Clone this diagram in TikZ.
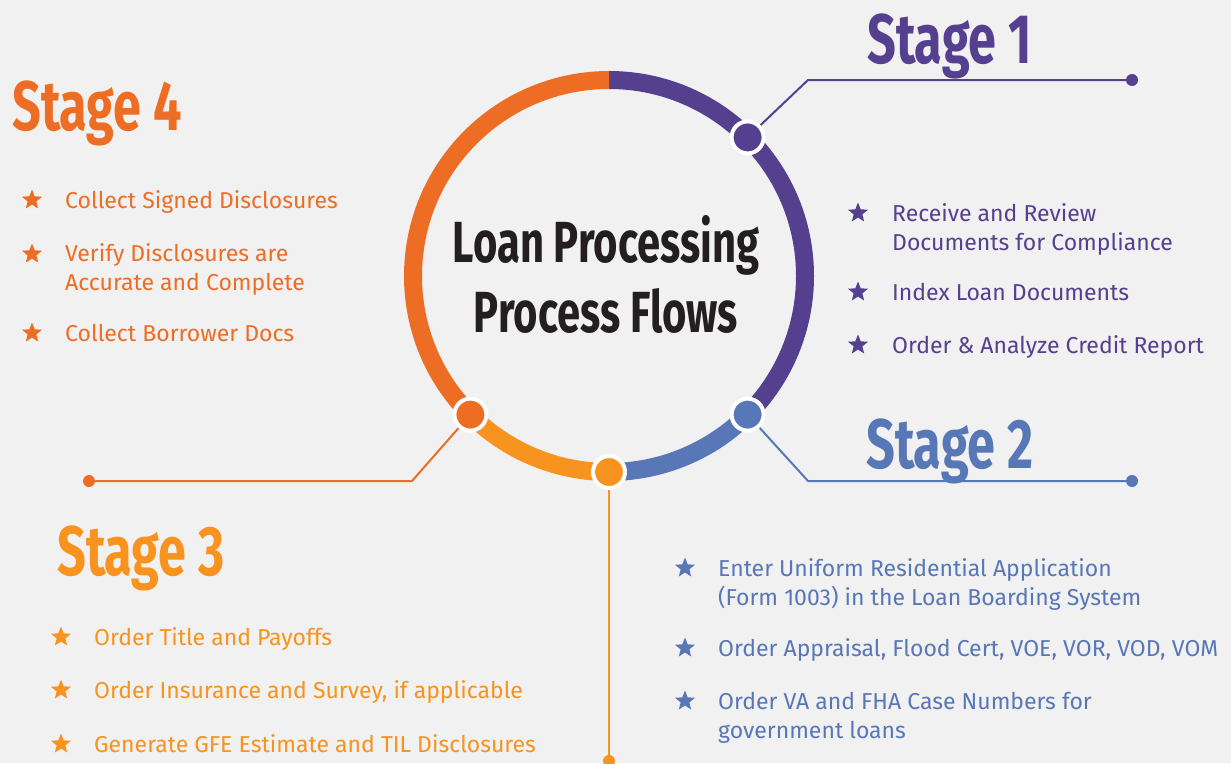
\documentclass[tikz,border=0pt]{standalone}
\usepackage{fontspec}
\setmainfont{Fira Sans}
\newfontfamily\judulfont[FakeStretch=0.72]{Fira Sans}
\usetikzlibrary{shapes.geometric, positioning}

\definecolor{latar}{HTML}{F1F1F1}
\definecolor{ungu}{HTML}{553F8F}
\definecolor{biru}{HTML}{5877B7}
\definecolor{jingga}{HTML}{F7931E}
\definecolor{oranye}{HTML}{EE6D24}
\definecolor{hitam}{HTML}{231F20}

\begin{document}
\begin{tikzpicture}[x=1pt, y=-1pt,
  cincin/.style={line width=18pt},
  titik/.style={circle, draw=white, line width=4pt, minimum size=32pt, inner sep=0},
  ujung/.style={circle, fill, minimum size=12pt, inner sep=0},
  garis/.style={line width=2pt},
  tahap/.style={anchor=base west, inner sep=0, font=\judulfont\bfseries\fontsize{70}{70}\selectfont},
  poin/.style={anchor=base west, inner sep=0, align=left, font=\fontsize{23}{29}\selectfont},
  bintang/.style={star, star points=5, star point ratio=2.3, fill, inner sep=0, minimum size=21pt}]

  % Latar
  \fill[latar] (0,0) rectangle (1231,763);
  \useasboundingbox (0,0) rectangle (1231,763);

  % Lingkaran
  \coordinate (c) at (609,276);
  \draw[cincin, ungu]   ([shift={(-90:196)}]c) arc[start angle=-90, end angle=45, radius=196];
  \draw[cincin, biru]   ([shift={(45:196)}]c) arc[start angle=45, end angle=90, radius=196];
  \draw[cincin, jingga] ([shift={(90:196)}]c) arc[start angle=90, end angle=135, radius=196];
  \draw[cincin, oranye] ([shift={(135:196)}]c) arc[start angle=135, end angle=270, radius=196];

  \node[align=center, font=\judulfont\bfseries\fontsize{58}{70}\selectfont, text=hitam] (judul) at (606,274)
    {Loan Processing\\Process Flows};

  % Titik pada lingkaran
  \node[titik, fill=ungu]   (d1) at ([shift={(-45:196)}]c) {};
  \node[titik, fill=biru]   (d2) at ([shift={(45:196)}]c) {};
  \node[titik, fill=jingga] (d3) at ([shift={(90:196)}]c) {};
  \node[titik, fill=oranye] (d4) at ([shift={(135:196)}]c) {};

  % Tahap 1
  \coordinate (k1) at (808,80);
  \node[ujung, ungu] (e1) at (1132,80) {};
  \draw[garis, ungu] (d1) -- (k1) -- (e1);
  \node[tahap, text=ungu] (t1) at (867,63) {Stage 1};
  \node[poin, text=ungu] (p1a) at (892,250) {Receive and Review\\Documents for Compliance};
  \node[poin, text=ungu] (p1b) at (892,300) {Index Loan Documents};
  \node[poin, text=ungu] (p1c) at (892,353) {Order \& Analyze Credit Report};
  \node[bintang, ungu] at (858,213) {};
  \node[bintang, ungu] at (858,292) {};
  \node[bintang, ungu] at (858,345) {};

  % Tahap 2
  \coordinate (k2) at (808,481);
  \node[ujung, biru] (e2) at (1132,481) {};
  \draw[garis, biru] (d2) -- (k2) -- (e2);
  \node[tahap, text=biru] (t2) at (866,468) {Stage 2};
  \node[poin, text=biru] (p2a) at (718,605) {Enter Uniform Residential Application\\(Form 1003) in the Loan Boarding System};
  \node[poin, text=biru] (p2b) at (718,656) {Order Appraisal, Flood Cert, VOE, VOR, VOD, VOM};
  \node[poin, text=biru] (p2c) at (718,738) {Order VA and FHA Case Numbers for\\government loans};
  \node[bintang, biru] at (685,568) {};
  \node[bintang, biru] at (685,648) {};
  \node[bintang, biru] at (685,701) {};

  % Tahap 3
  \node[ujung, jingga] (e3) at (609,761) {};
  \draw[garis, jingga] (d3) -- (e3);
  \node[tahap, text=jingga] (t3) at (57,575) {Stage 3};
  \node[poin, text=jingga] (p3a) at (94,645) {Order Title and Payoffs};
  \node[poin, text=jingga] (p3b) at (94,698) {Order Insurance and Survey, if applicable};
  \node[poin, text=jingga] (p3c) at (94,752) {Generate GFE Estimate and TIL Disclosures};
  \node[bintang, jingga] at (61,637) {};
  \node[bintang, jingga] at (61,690) {};
  \node[bintang, jingga] at (61,744) {};

  % Tahap 4
  \coordinate (k4) at (412,481);
  \node[ujung, oranye] (e4) at (89,481) {};
  \draw[garis, oranye] (d4) -- (k4) -- (e4);
  \node[tahap, text=oranye] (t4) at (12,130) {Stage 4};
  \node[poin, text=oranye] (p4a) at (65,208) {Collect Signed Disclosures};
  \node[poin, text=oranye] (p4b) at (65,290) {Verify Disclosures are\\Accurate and Complete};
  \node[poin, text=oranye] (p4c) at (65,341) {Collect Borrower Docs};
  \node[bintang, oranye] at (32,200) {};
  \node[bintang, oranye] at (32,254) {};
  \node[bintang, oranye] at (32,333) {};
\end{tikzpicture}
\end{document}
